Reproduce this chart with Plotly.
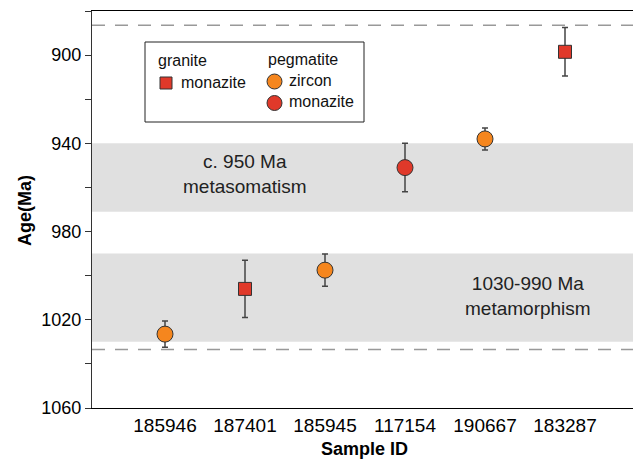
import plotly.graph_objects as go

# ---- data ----
samples = ["185946", "187401", "185945", "117154", "190667", "183287"]
ages = [1026.5, 1006.0, 997.5, 951.0, 938.0, 898.5]
errors = [6.0, 13.0, 7.3, 11.0, 5.0, 11.0]
groups = ["peg_zircon", "granite_monazite", "peg_zircon", "peg_monazite", "peg_zircon", "granite_monazite"]

y_ticks = [900, 940, 980, 1020, 1060]
band_metasomatism = [940, 971]
band_metamorphism = [990, 1030]
dashed_limits = [886.5, 1033.5]

FONT = "Arial, 'Liberation Sans', sans-serif"
ORANGE = "#F5861E"
RED = "#E0392A"
W, H = 633, 461
L, R, T, B = 92, 0, 11, 53

styles = {
    "granite_monazite": dict(symbol="square", size=13, color=RED),
    "peg_zircon": dict(symbol="circle", size=16, color=ORANGE),
    "peg_monazite": dict(symbol="circle", size=16, color=RED),
}

fig = go.Figure()
for g, st in styles.items():
    xs = [s for s, gg in zip(samples, groups) if gg == g]
    ys = [a for a, gg in zip(ages, groups) if gg == g]
    es = [e for e, gg in zip(errors, groups) if gg == g]
    fig.add_trace(go.Scatter(
        x=xs, y=ys, mode="markers", showlegend=False,
        marker=dict(symbol=st["symbol"], size=st["size"], color=st["color"],
                    line=dict(color="#333333", width=1)),
        error_y=dict(type="data", array=es, visible=True, color="#444444",
                     thickness=1.5, width=3),
    ))

# bands
for b in (band_metasomatism, band_metamorphism):
    fig.add_shape(type="rect", xref="paper", yref="y", x0=0, x1=1, y0=b[0], y1=b[1],
                  fillcolor="#E0E0E0", line=dict(width=0), layer="below")
# dashed lines
for d in dashed_limits:
    fig.add_shape(type="line", xref="paper", yref="y", x0=0, x1=1, y0=d, y1=d,
                  line=dict(color="#999999", width=1.5, dash="13px,10px"), layer="below")


def px(xp):
    return (xp - L) / (W - L - R)


def py(yp):
    return (H - B - yp) / (H - B - T)


# legend box
fig.add_shape(type="rect", xref="paper", yref="paper", x0=px(145), x1=px(364),
              y0=py(122), y1=py(42), line=dict(color="#222222", width=1), fillcolor="white")
# legend glyphs
fig.add_shape(type="rect", xref="paper", yref="paper", xsizemode="pixel", ysizemode="pixel",
              xanchor=px(166), yanchor=py(83), x0=-6, x1=6, y0=-6, y1=6,
              fillcolor=RED, line=dict(color="#333333", width=1))
for cy, col in ((81.5, ORANGE), (103, RED)):
    fig.add_shape(type="circle", xref="paper", yref="paper", xsizemode="pixel", ysizemode="pixel",
                  xanchor=px(274.5), yanchor=py(cy), x0=-7.5, x1=7.5, y0=-7.5, y1=7.5,
                  fillcolor=col, line=dict(color="#333333", width=1))

legend_texts = [("granite", 156, 61), ("monazite", 179, 82), ("pegmatite", 266, 60),
                ("zircon", 287, 80), ("monazite", 287, 102)]
for t, xx, yy in legend_texts:
    fig.add_annotation(text=t, xref="paper", yref="paper", x=px(xx), y=py(yy),
                       xanchor="left", yanchor="middle", showarrow=False,
                       font=dict(family=FONT, size=16, color="#111111"))

# band labels
fig.add_annotation(text="c. 950 Ma<br>metasomatism", xref="x", yref="y", x=1.0, y=954,
                   showarrow=False, font=dict(family=FONT, size=19, color="#222222"))
fig.add_annotation(text="1030-990 Ma<br>metamorphism", xref="x", yref="y", x=4.54, y=1009.3,
                   showarrow=False, font=dict(family=FONT, size=19, color="#222222"))

# axis titles
fig.add_annotation(text="<b>Age(Ma)</b>", xref="paper", yref="paper", x=px(25), y=py(211),
                   textangle=-90, showarrow=False, xanchor="center", yanchor="middle",
                   font=dict(family=FONT, size=18, color="black"))
fig.add_annotation(text="<b>Sample ID</b>", xref="paper", yref="paper", x=px(364), y=py(449),
                   showarrow=False, xanchor="center", yanchor="middle",
                   font=dict(family=FONT, size=18, color="black"))

fig.update_layout(
    width=W, height=H, margin=dict(l=L, r=R, t=T, b=B),
    plot_bgcolor="white", paper_bgcolor="white",
    xaxis=dict(type="category", categoryorder="array", categoryarray=samples,
               range=[-0.9125, 5.85], showline=True, mirror=True, linecolor="black",
               linewidth=1.3, ticks="", showgrid=False, zeroline=False,
               tickfont=dict(family=FONT, size=19, color="black")),
    yaxis=dict(range=[1060, 880], tickvals=y_ticks, showline=True, mirror=False,
               linecolor="#333333", linewidth=1.3, ticks="outside", ticklen=6,
               tickcolor="#333333", showgrid=False, zeroline=False,
               minor=dict(dtick=20, tick0=880, ticks="outside", ticklen=6, tickcolor="#333333", showgrid=False),
               tickfont=dict(family=FONT, size=18, color="black")),
)

fig.write_html("out.html")
